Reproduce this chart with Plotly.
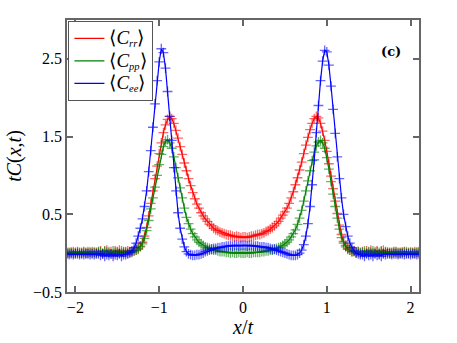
import plotly.graph_objects as go

# sampling grid of x/t
X = [round(-2.1 + 0.025 * i, 3) for i in range(169)]

red_vals = [
    # -2.1 .. -1.425
    0.01, 0.00, 0.01, 0.02, 0.00, 0.01, 0.01, 0.00, 0.02, 0.01, 0.00, 0.01, 0.02, 0.01, 0.00, 0.01,
    0.03, -0.01, 0.02, 0.04, 0.00, 0.02, -0.01, 0.03, 0.01, 0.04, 0.00, 0.02,
    # -1.4 .. 0
    0.01, 0.03, 0.00, 0.02, 0.03, 0.04, 0.06, 0.09, 0.14, 0.22, 0.33, 0.48, 0.64, 0.80, 0.96, 1.12,
    1.28, 1.42, 1.55, 1.65, 1.72, 1.76, 1.73, 1.67, 1.58, 1.48, 1.37, 1.27, 1.16, 1.06, 0.96, 0.87,
    0.78, 0.70, 0.63, 0.58, 0.52, 0.48, 0.44, 0.41, 0.37, 0.35, 0.32, 0.30, 0.29, 0.27, 0.26, 0.25,
    0.24, 0.23, 0.23, 0.22, 0.21, 0.22, 0.21, 0.20, 0.21,
    # 0.025 .. 1.4
    0.21, 0.20, 0.21, 0.22, 0.22, 0.23, 0.24, 0.24, 0.25, 0.26, 0.28, 0.29, 0.31, 0.33, 0.35, 0.38,
    0.41, 0.45, 0.49, 0.53, 0.58, 0.64, 0.71, 0.79, 0.88, 0.97, 1.07, 1.17, 1.28, 1.39, 1.49, 1.59,
    1.67, 1.73, 1.76, 1.74, 1.67, 1.57, 1.45, 1.31, 1.15, 0.99, 0.83, 0.67, 0.51, 0.36, 0.24, 0.15,
    0.10, 0.06, 0.04, 0.02, 0.03, 0.01, 0.02, 0.00,
    # 1.425 .. 2.1
    0.02, 0.00, 0.03, 0.01, 0.04, 0.00, 0.02, 0.03, -0.01, 0.02, 0.04, 0.01,
    0.01, 0.00, 0.01, 0.02, 0.01, 0.00, 0.01, 0.01, 0.02, 0.00, 0.01, 0.01, 0.00, 0.02, 0.01, 0.01,
]

green_vals = [
    0.00, 0.01, 0.01, 0.00, 0.01, 0.02, 0.00, 0.01, 0.01, 0.00, 0.02, 0.01, 0.00, 0.01, 0.01, 0.02,
    0.02, 0.00, 0.03, 0.01, 0.02, -0.01, 0.03, 0.01, 0.02, 0.00, 0.03, 0.01,
    0.02, 0.00, 0.02, 0.01, 0.03, 0.04, 0.05, 0.08, 0.12, 0.19, 0.29, 0.42, 0.57, 0.71, 0.85, 1.00,
    1.14, 1.27, 1.37, 1.44, 1.46, 1.42, 1.35, 1.24, 1.10, 0.97, 0.84, 0.71, 0.58, 0.46, 0.38, 0.31,
    0.25, 0.21, 0.17, 0.14, 0.12, 0.10, 0.08, 0.07, 0.06, 0.05, 0.04, 0.04, 0.03, 0.02, 0.02, 0.02,
    0.01, 0.01, 0.00, 0.01, 0.00, 0.00, 0.01, 0.00, 0.00,
    0.00, 0.01, 0.00, 0.00, 0.01, 0.01, 0.01, 0.01, 0.02, 0.02, 0.03, 0.03, 0.04, 0.04, 0.05, 0.06,
    0.07, 0.08, 0.10, 0.12, 0.14, 0.17, 0.21, 0.25, 0.30, 0.37, 0.45, 0.55, 0.67, 0.80, 0.93, 1.06,
    1.19, 1.30, 1.38, 1.43, 1.45, 1.42, 1.35, 1.23, 1.08, 0.92, 0.76, 0.60, 0.45, 0.31, 0.20, 0.13,
    0.08, 0.05, 0.04, 0.02, 0.02, 0.01, 0.02, 0.01,
    0.01, 0.03, 0.00, 0.02, 0.01, 0.03, 0.00, 0.02, 0.01, 0.03, 0.00, 0.02,
    0.01, 0.01, 0.00, 0.01, 0.02, 0.01, 0.00, 0.01, 0.01, 0.02, 0.00, 0.01, 0.01, 0.00, 0.01, 0.02,
]

blue_vals = [
    -0.01, -0.02, -0.01, -0.02, -0.01, -0.01, -0.02, -0.01, -0.02, -0.01, -0.01, -0.02, -0.01, -0.02, -0.01, -0.01,
    -0.03, -0.01, -0.04, -0.02, -0.03, -0.01, -0.04, -0.02, -0.03, -0.01, -0.04, -0.02,
    -0.02, -0.01, 0.01, 0.03, 0.07, 0.13, 0.22, 0.32, 0.44, 0.60, 0.80, 1.05, 1.32, 1.62, 1.92, 2.22,
    2.46, 2.63, 2.58, 2.38, 2.08, 1.76, 1.45, 1.10, 0.80, 0.52, 0.32, 0.18, 0.08, 0.02, -0.01, -0.02,
    -0.03, -0.03, -0.02, -0.02, -0.01, 0.00, 0.02, 0.03, 0.04, 0.05, 0.06, 0.06, 0.07, 0.07, 0.08, 0.08,
    0.09, 0.09, 0.10, 0.09, 0.10, 0.10, 0.09, 0.10, 0.10,
    0.10, 0.09, 0.10, 0.10, 0.09, 0.09, 0.09, 0.08, 0.08, 0.08, 0.07, 0.07, 0.06, 0.05, 0.05, 0.04,
    0.03, 0.02, 0.01, 0.00, -0.01, -0.02, -0.03, -0.03, -0.03, -0.02, 0.00, 0.04, 0.11, 0.22, 0.38, 0.60,
    0.88, 1.20, 1.55, 1.90, 2.22, 2.47, 2.61, 2.59, 2.42, 2.15, 1.85, 1.54, 1.24, 0.96, 0.71, 0.50,
    0.34, 0.22, 0.13, 0.07, 0.03, 0.00, -0.01, -0.02,
    -0.02, -0.04, -0.01, -0.03, -0.02, -0.04, -0.01, -0.03, -0.02, -0.04, -0.01, -0.02,
    -0.01, -0.01, -0.02, -0.01, -0.01, -0.02, -0.01, -0.01, -0.02, -0.01, -0.01, -0.02, -0.01, -0.01, -0.02, -0.01,
]

assert len(red_vals) == len(X), len(red_vals)
assert len(green_vals) == len(X), len(green_vals)
assert len(blue_vals) == len(X), len(blue_vals)


def legend_label(sub):
    return ("<span style='font-size:19px'>⟨<i>C</i></span>"
            f"<sub><i>{sub}</i></sub>"
            "<span style='font-size:19px'>⟩</span>")


series = [
    (legend_label("rr"), red_vals, "#ff0000", "rgba(255,0,0,0.6)"),
    (legend_label("pp"), green_vals, "#008000", "rgba(0,128,0,0.6)"),
    (legend_label("ee"), blue_vals, "#0000ff", "rgba(0,0,255,0.6)"),
]

X_TICKS = [-2, -1, 0, 1, 2]
Y_TICKS = [-0.5, 0.5, 1.5, 2.5]

fig = go.Figure()
for name, vals, col, mcol in series:
    fig.add_trace(go.Scatter(
        x=X, y=vals, mode="lines+markers", showlegend=False,
        line=dict(color=col, width=1.2),
        marker=dict(symbol="cross-thin", size=7, line=dict(color=mcol, width=1.3)),
    ))
for name, vals, col, mcol in series:
    fig.add_trace(go.Scatter(
        x=[None], y=[None], mode="lines", name=name,
        line=dict(color=col, width=1.2),
    ))

serif = "Liberation Serif"
axis_common = dict(
    showline=True, mirror="ticks", linecolor="#666", linewidth=1.5,
    ticks="inside", ticklen=6, tickwidth=1.5, tickcolor="#666",
    showgrid=False, zeroline=False, automargin=False,
    tickfont=dict(family=serif, size=16, color="black"),
)

fig.update_xaxes(range=[-2.1, 2.1], tickvals=X_TICKS,
                 title=dict(text="<i>x</i>/<i>t</i>", font=dict(family=serif, size=20, color="black"), standoff=4),
                 **axis_common)
fig.update_yaxes(range=[-0.5, 3.0], tickvals=Y_TICKS, ticktext=["−0.5", "0.5", "1.5", "2.5"],
                 title=dict(text="<i>tC</i>(<i>x</i>,<i>t</i>)", font=dict(family=serif, size=20, color="black"), standoff=6),
                 **axis_common)

fig.add_annotation(x=0.92, y=0.886, xref="paper", yref="paper", text="<b>(c)</b>", showarrow=False,
                   xanchor="center", yanchor="middle",
                   font=dict(family="DejaVu Serif", size=13, color="black"))

fig.update_layout(
    width=457, height=343,
    margin=dict(l=67, r=38, t=20, b=51, autoexpand=False),
    paper_bgcolor="white", plot_bgcolor="white",
    legend=dict(x=0.004, y=0.996, xanchor="left", yanchor="top",
                bordercolor="#555", borderwidth=1, bgcolor="white",
                font=dict(family=serif, size=15, color="black"),
                tracegroupgap=0, itemwidth=30),
)

fig.write_html("out.html", config={"displayModeBar": False},
               post_script="document.body.style.margin='0';")
